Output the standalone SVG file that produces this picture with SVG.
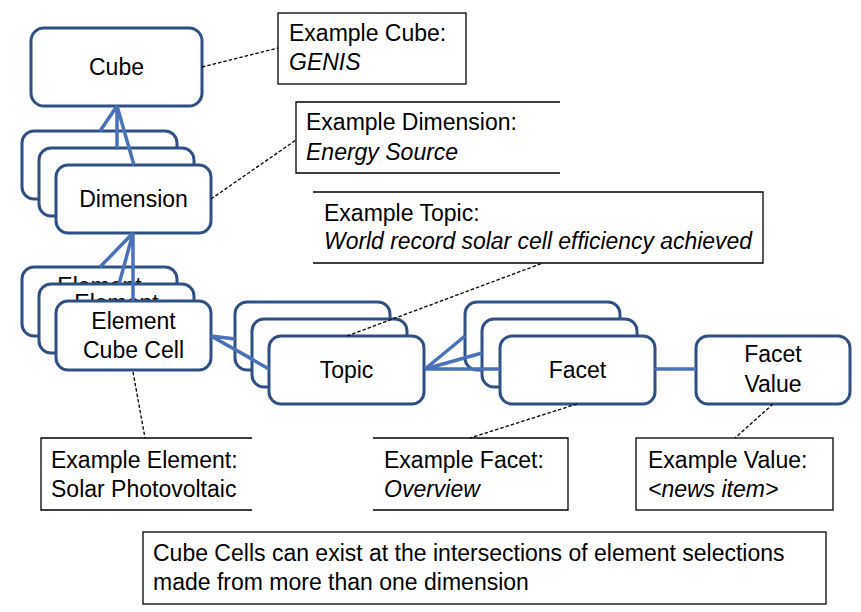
<svg xmlns="http://www.w3.org/2000/svg" width="861" height="612" viewBox="0 0 861 612">
<style>
.node{fill:#fff;stroke:#2F5084;stroke-width:3}
.lbl{font-family:"Liberation Sans",Arial,sans-serif;font-size:23px;fill:#000}
.c{text-anchor:middle}
.it{font-style:italic}
.box{fill:#fff;stroke:#000;stroke-width:1.3}
.open{fill:none;stroke:#000;stroke-width:1.3}
.link{stroke:#4A72B8;stroke-width:3.5;fill:none;stroke-linecap:butt}
.dash{stroke:#000;stroke-width:1.3;stroke-dasharray:3.5 2;fill:none}
</style>
<rect width="861" height="612" fill="#fff"/>

<g id="note-cube">
<rect class="box" x="278" y="13" width="188" height="71"/>
<text class="lbl" x="289" y="41">Example Cube:</text>
<text class="lbl it" x="289" y="70">GENIS</text>
</g>
<g id="note-dimension">
<rect x="296" y="102" width="264" height="71" fill="#fff"/>
<path class="open" d="M560,102 H296 V173 H560"/>
<text class="lbl" x="306" y="130">Example Dimension:</text>
<text class="lbl it" x="306" y="160">Energy Source</text>
</g>
<g id="note-topic">
<rect x="313" y="192" width="450" height="71" fill="#fff"/>
<path class="open" d="M313,192 H763 V263 H313"/>
<text class="lbl" x="324" y="221">Example Topic:</text>
<text class="lbl it" x="324" y="249" textLength="428" lengthAdjust="spacingAndGlyphs">World record solar cell efficiency achieved</text>
</g>
<g id="note-element">
<path class="open" d="M252,438 H41 V510 H252"/>
<text class="lbl" x="51" y="468">Example Element:</text>
<text class="lbl" x="51" y="497">Solar Photovoltaic</text>
</g>
<g id="note-facet">
<path class="open" d="M373,438 H568 V510 H373"/>
<text class="lbl" x="384" y="468">Example Facet:</text>
<text class="lbl it" x="384" y="497">Overview</text>
</g>
<g id="note-value">
<rect class="box" x="636" y="438" width="197" height="72"/>
<text class="lbl" x="648" y="468">Example Value:</text>
<text class="lbl it" x="648" y="497">&lt;news item&gt;</text>
</g>
<g id="note-cells">
<rect class="box" x="143" y="532" width="683" height="72"/>
<text class="lbl" x="153" y="561">Cube Cells can exist at the intersections of element selections</text>
<text class="lbl" x="153" y="590">made from more than one dimension</text>
</g>

<g id="cube">
<rect class="node" x="31" y="28" width="171" height="78" rx="13"/>
<text class="lbl c" x="116.5" y="75">Cube</text>
</g>
<g id="dimension">
<rect class="node" x="22" y="131" width="155" height="68" rx="12"/>
<rect class="node" x="39" y="148" width="155" height="68" rx="12"/>
<rect class="node" x="56" y="165" width="155" height="68" rx="12"/>
<text class="lbl c" x="133.5" y="207">Dimension</text>
</g>
<g id="element">
<rect class="node" x="22" y="267" width="155" height="69" rx="12"/>
<text class="lbl c" x="99.5" y="294">Element</text>
<rect class="node" x="39" y="284" width="155" height="69" rx="12"/>
<text class="lbl c" x="116.5" y="311">Element</text>
<rect class="node" x="56" y="301" width="155" height="69" rx="12"/>
<text class="lbl c" x="133.5" y="329">Element</text>
<text class="lbl c" x="133.5" y="358">Cube Cell</text>
</g>
<g id="topic">
<rect class="node" x="235" y="302" width="155" height="68" rx="12"/>
<rect class="node" x="252" y="319" width="155" height="68" rx="12"/>
<rect class="node" x="269" y="336" width="155" height="68" rx="12"/>
<text class="lbl c" x="346.5" y="378">Topic</text>
</g>
<g id="facet">
<rect class="node" x="465" y="302" width="155" height="68" rx="12"/>
<rect class="node" x="482" y="319" width="155" height="68" rx="12"/>
<rect class="node" x="500" y="336" width="155" height="68" rx="12"/>
<text class="lbl c" x="577.5" y="378">Facet</text>
</g>
<g id="facet-value">
<rect class="node" x="696" y="336" width="154" height="68" rx="12"/>
<text class="lbl c" x="773" y="362">Facet</text>
<text class="lbl c" x="773" y="392">Value</text>
</g>

<g id="connectors">
<path class="link" d="M100,131 L117,106 M117,148 L117,106 M134,165 L117,106"/>
<path class="link" d="M100,267 L133,233 M119,284 L133,233 M133,301 L133,233"/>
<path class="link" d="M235,339 L211,336 M252,359 L211,336 M269,369 L211,336"/>
<path class="link" d="M465,336 L425,369 M482,353 L425,369 M500,369 L425,369"/>
<path class="link" d="M655,369 L696,369"/>
<path class="dash" d="M202,67 L278,48"/>
<path class="dash" d="M211,199 L296,140"/>
<path class="dash" d="M347,336 L543,263"/>
<path class="dash" d="M133,372 L145,438"/>
<path class="dash" d="M577,404 L470,438"/>
<path class="dash" d="M773,404 L735,438"/>
</g>
</svg>
